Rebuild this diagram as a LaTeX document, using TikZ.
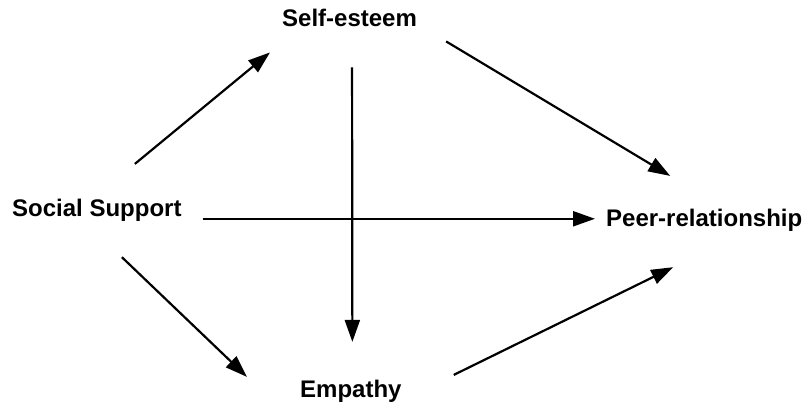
\documentclass[tikz,border=0pt]{standalone}
\usepackage{fontspec}
\setmainfont{Liberation Sans}
\usetikzlibrary{arrows.meta}
\tikzset{
  var/.style={font=\bfseries\fontsize{24}{28}\selectfont,inner sep=0pt,anchor=base west},
  path/.style={line width=2.2pt,-{Triangle[length=22pt,width=15pt]}}
}
\begin{document}
\begin{tikzpicture}[x=1pt,y=1pt]
  \useasboundingbox (0,0) rectangle (807,407);
  \node[var] (self) at (282,380) {Self-esteem};
  \node[var] (soc) at (12,190) {Social Support};
  \node[var] (peer) at (606,180) {Peer-relationship};
  \node[var] (emp) at (300,9) {Empathy};
  \draw[path] ([shift={(38,35.5)}]soc.north) -- ([shift={(-12,-25)}]self.south west);
  \draw[path] ([shift={(29,-14)}]self.south east) -- ([shift={(-34,33.5)}]peer.north);
  \draw[path] ([shift={(2.5,-40)}]self.south) -- ([shift={(1.5,38.5)}]emp.north);
  \draw[path] ([shift={(21,-8)}]soc.east) -- ([shift={(-11,2)}]peer.west);
  \draw[path] ([shift={(25,-35)}]soc.south) -- ([shift={(-53,3.5)}]emp.north west);
  \draw[path] ([shift={(52,5.5)}]emp.north east) -- ([shift={(-31,-35)}]peer.south);
\end{tikzpicture}
\end{document}
